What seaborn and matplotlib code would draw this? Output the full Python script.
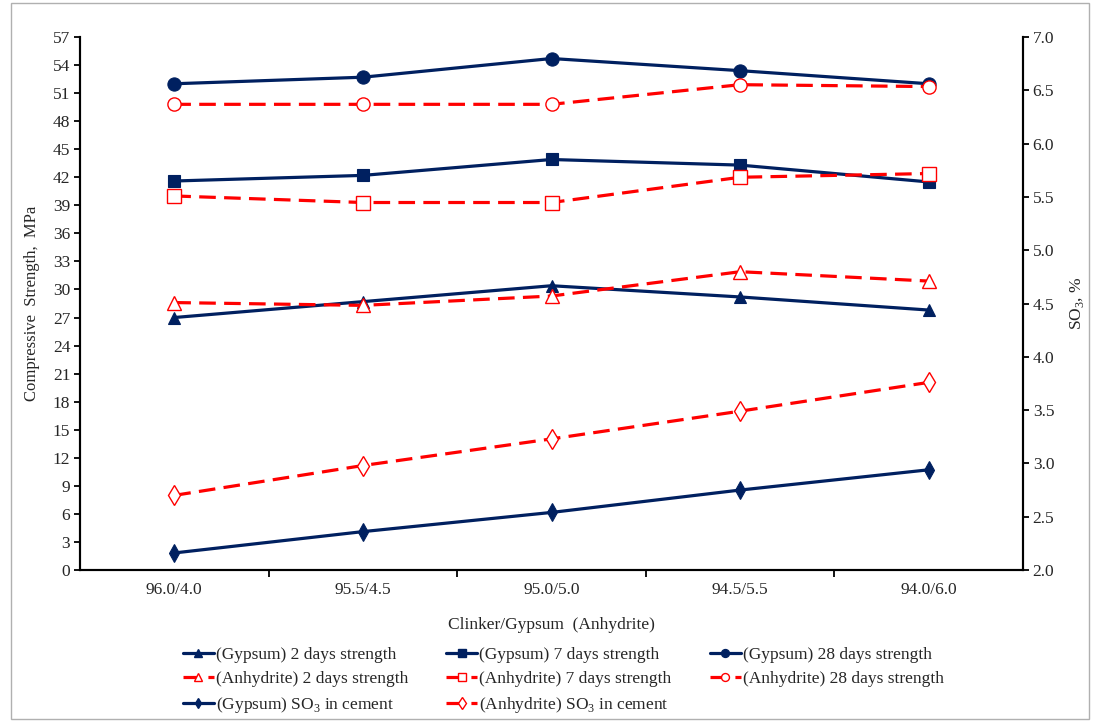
import matplotlib
matplotlib.use("Agg")
import matplotlib.pyplot as plt
from matplotlib.patches import Rectangle
from matplotlib.lines import Line2D
import numpy as np
import pandas as pd
import seaborn as sns

# Clinker / calcium sulfate ratios
ratios = ["96.0/4.0", "95.5/4.5", "95.0/5.0", "94.5/5.5", "94.0/6.0"]

# Compressive strength, MPa
gypsum_2d = [27.0, 28.7, 30.4, 29.2, 27.8]
gypsum_7d = [41.6, 42.2, 43.9, 43.3, 41.5]
gypsum_28d = [52.0, 52.7, 54.7, 53.4, 52.0]
anhydrite_2d = [28.6, 28.3, 29.3, 31.9, 30.9]
anhydrite_7d = [40.0, 39.3, 39.3, 42.0, 42.4]
anhydrite_28d = [49.8, 49.8, 49.8, 51.9, 51.7]

# SO3 content of the cement, %
gypsum_so3 = [2.16, 2.36, 2.54, 2.75, 2.94]
anhydrite_so3 = [2.70, 2.98, 3.23, 3.49, 3.76]

strength_ticks = list(range(0, 58, 3))
so3_ticks = [2.0, 2.5, 3.0, 3.5, 4.0, 4.5, 5.0, 5.5, 6.0, 6.5, 7.0]

sns.set_theme(style="white")
plt.rcParams["font.family"] = ["Liberation Serif", "DejaVu Serif"]
plt.rcParams["mathtext.fontset"] = "custom"
plt.rcParams["mathtext.rm"] = "Liberation Serif"

NAVY = "#002060"
RED = "#ff0000"
DASH = (5.2, 2.6)
LW = 2.3
FS = 12.5

fig = plt.figure(figsize=(10.96, 7.22), dpi=100)
fig.patch.set_facecolor("white")
ax = fig.add_axes([80 / 1096, 1 - 570 / 722, (1023 - 80) / 1096, (570 - 37) / 722])
ax2 = ax.twinx()

x = np.arange(len(ratios))

series = [
    # label, values, axis, color, marker, size, filled, dashed
    ("(Gypsum) 2 days strength", gypsum_2d, ax, NAVY, "^", 9, True, False),
    ("(Gypsum) 7 days strength", gypsum_7d, ax, NAVY, "s", 9, True, False),
    ("(Gypsum) 28 days strength", gypsum_28d, ax, NAVY, "o", 9.5, True, False),
    ("(Anhydrite) 2 days strength", anhydrite_2d, ax, RED, "^", 10, False, True),
    ("(Anhydrite) 7 days strength", anhydrite_7d, ax, RED, "s", 9.5, False, True),
    ("(Anhydrite) 28 days strength", anhydrite_28d, ax, RED, "o", 9.5, False, True),
    ("(Gypsum) SO$_3$ in cement", gypsum_so3, ax2, NAVY, "d", 9, True, False),
    ("(Anhydrite) SO$_3$ in cement", anhydrite_so3, ax2, RED, "d", 10, False, True),
]

handles = {}
for label, vals, target, color, marker, ms, filled, dashed in series:
    df = pd.DataFrame({"x": x, "y": vals})
    kw = dict(color=color, linewidth=LW, marker=marker, markersize=ms,
              markerfacecolor=color if filled else "white",
              markeredgecolor=color, markeredgewidth=1.0 if not filled else 0.8,
              sort=False, legend=False, errorbar=None, zorder=3)
    sns.lineplot(data=df, x="x", y="y", ax=target, **kw)
    line = target.get_lines()[-1]
    if dashed:
        line.set_dashes(DASH)
    handles[label] = Line2D([], [], color=color, linewidth=LW,
                            linestyle=(0, DASH) if dashed else "-",
                            marker=marker, markersize=ms * 0.6,
                            markerfacecolor=color if filled else "white",
                            markeredgecolor=color, markeredgewidth=1.0)

# Axes ranges and ticks
ax.set_xlim(-0.5, len(ratios) - 0.5)
ax.set_ylim(0, 57)
ax.set_yticks(strength_ticks)
ax.set_yticklabels([str(t) for t in strength_ticks], fontsize=FS)
ax2.set_ylim(2.0, 7.0)
ax2.set_yticks(so3_ticks)
ax2.set_yticklabels([f"{t:.1f}" for t in so3_ticks], fontsize=FS)

ax.set_xticks(np.arange(len(ratios) - 1) + 0.5)
ax.set_xticklabels([])
ax.set_xticks(x, minor=True)
ax.set_xticklabels(ratios, minor=True, fontsize=FS)
ax.tick_params(axis="x", which="major", direction="out", length=5, width=1.3,
               color="black", bottom=True)
ax.tick_params(axis="x", which="minor", length=0, pad=9)
ax.tick_params(axis="y", direction="out", length=4, width=1.3, color="black",
               left=True, pad=3)
ax2.tick_params(axis="y", direction="out", length=4, width=1.3, color="black",
                right=True, pad=3)

for a in (ax, ax2):
    a.grid(False)
    a.spines["top"].set_visible(False)
    for s in ("left", "right", "bottom"):
        a.spines[s].set_color("black")
        a.spines[s].set_linewidth(1.5)
    a.set_xlabel("")
    a.set_ylabel("")

ax.set_ylabel("Compressive  Strength,  MPa", fontsize=12, labelpad=9)
ax2.set_ylabel("SO$_3$, %", fontsize=12.5, labelpad=10, rotation=90)
ax.set_xlabel("Clinker/Gypsum  (Anhydrite)", fontsize=12.5, labelpad=13)

# Legend laid out row by row: gypsum strengths, anhydrite strengths, SO3
order = [
    "(Gypsum) 2 days strength", "(Anhydrite) 2 days strength", "(Gypsum) SO$_3$ in cement",
    "(Gypsum) 7 days strength", "(Anhydrite) 7 days strength", "(Anhydrite) SO$_3$ in cement",
    "(Gypsum) 28 days strength", "(Anhydrite) 28 days strength",
]
fig.legend([handles[k] for k in order], order, ncol=3, loc="upper left",
           bbox_to_anchor=(174 / 1096, 1 - 638 / 722), frameon=False,
           fontsize=FS, handlelength=1.8, handletextpad=0.1,
           columnspacing=2.2, labelspacing=0.45, borderpad=0)

# Thin outer frame
fig.add_artist(Rectangle((11 / 1096, 3 / 722), 1078 / 1096, 716 / 722,
                         transform=fig.transFigure, fill=False,
                         edgecolor="#b0b0b0", linewidth=1.0))

fig.savefig("out.png", dpi=100, facecolor="white")
